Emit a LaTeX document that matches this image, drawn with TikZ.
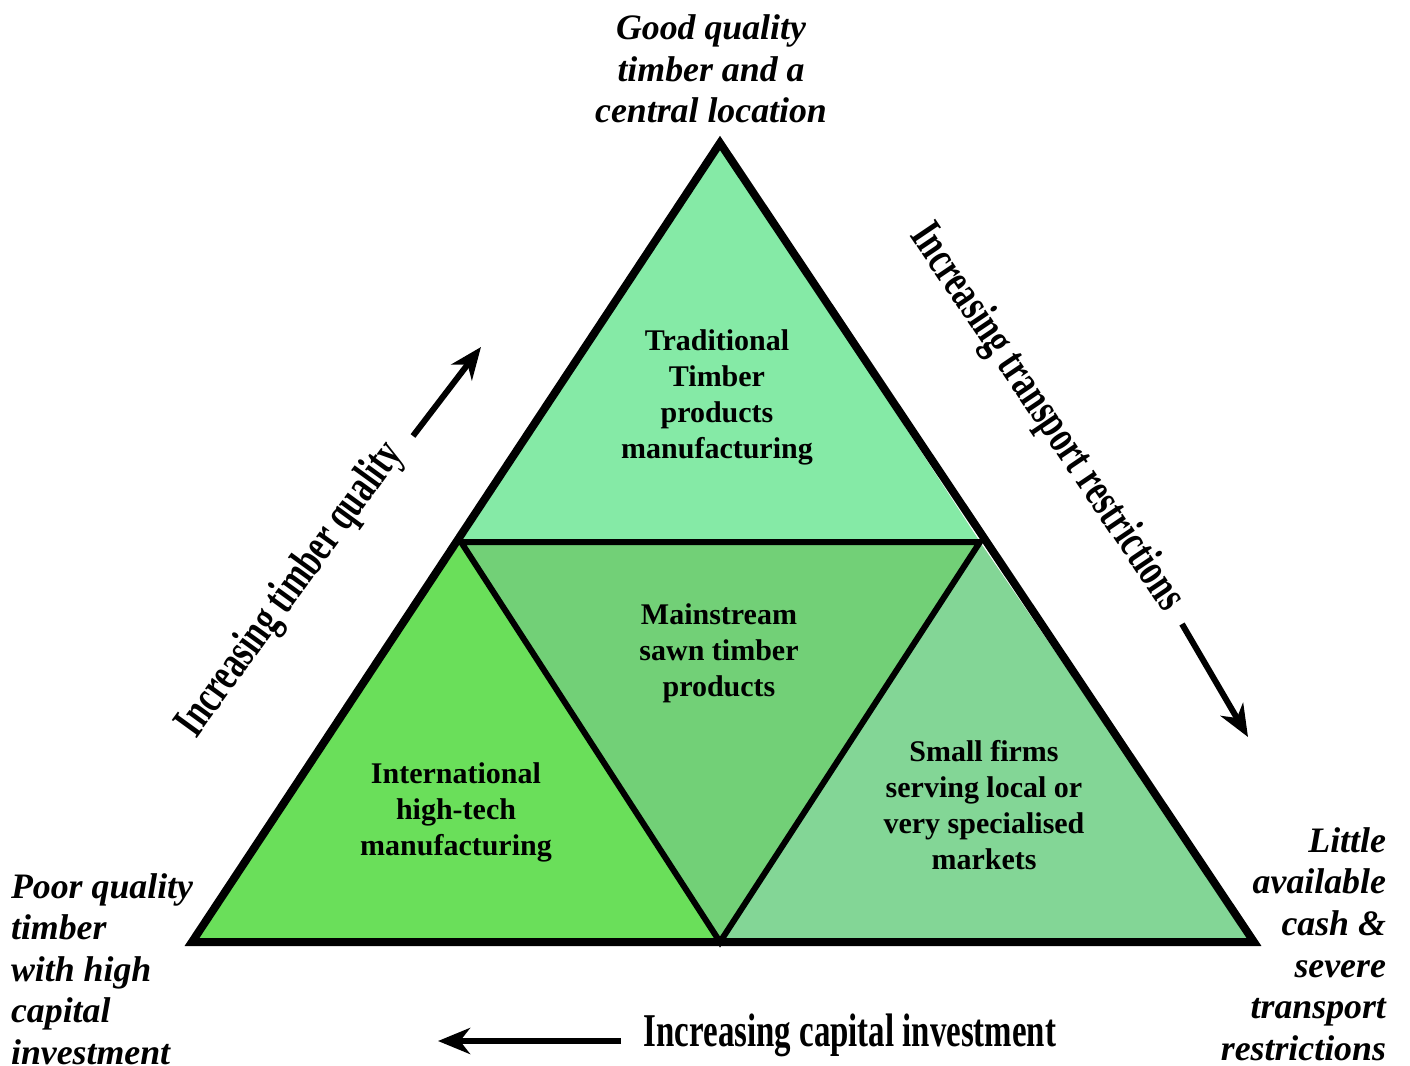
\documentclass[tikz,border=0pt]{standalone}
\usepackage{graphicx}
\usepackage{fontspec}
\setmainfont{Liberation Serif}
\usetikzlibrary{arrows.meta}
\definecolor{topgreen}{HTML}{85EAA6}
\definecolor{midgreen}{HTML}{72D077}
\definecolor{leftgreen}{HTML}{6ADF5A}
\definecolor{rightgreen}{HTML}{83D696}

\begin{document}
\begin{tikzpicture}[x=0.5pt,y=-0.5pt,
    zone/.style={font=\bfseries\fontsize{15}{18}\selectfont, align=center},
    corner/.style={font=\bfseries\itshape\fontsize{17.9}{20.8}\selectfont},
    trend/.style={font=\bfseries\fontsize{23.5}{28}\selectfont},
    push/.style={line width=3pt, -{Stealth[length=16pt,width=13pt,inset=5pt]}}]
  \useasboundingbox (0,0) rectangle (1410,1066);

  % corners of the big triangle and the midpoints of its sides
  \coordinate (apex) at (720,143);
  \coordinate (bl) at (192,942);
  \coordinate (br) at (1254,942);
  \coordinate (ml) at (461,542);
  \coordinate (mr) at (980,542);
  \coordinate (mb) at (720,942);

  % the four zones
  \foreach \p / \q / \r / \col in {apex/ml/mr/topgreen, ml/mr/mb/midgreen,
      bl/ml/mb/leftgreen, mb/mr/br/rightgreen} {
    \fill[\col] (\p) -- (\q) -- (\r) -- cycle;
  };
  \draw[line width=3pt, line join=miter] (ml) -- (mr) -- (mb) -- cycle;
  \draw[line width=4pt, line join=miter] (apex) -- (br) -- (bl) -- cycle;

  \node[zone] (trad) at (717,397) {Traditional\\Timber\\products\\manufacturing};
  \node[zone] (main) at (719,653) {Mainstream\\sawn timber\\products};
  \node[zone] (intl) at (456,812) {International\\high-tech\\manufacturing};
  \node[zone] (small) at (984,805) {Small firms\\serving local or\\very specialised\\markets};

  \node[corner, align=center] (good) at (711,69) {Good quality\\timber and a\\central location};
  \node[corner, align=left, anchor=west] (poor) at (4,969) {Poor quality\\timber\\with high\\capital\\investment};
  \node[corner, align=right, anchor=east] (cash) at (1393,944) {Little\\available\\cash \&\\severe\\transport\\restrictions};

  % trends along the sides
  \node[trend, rotate=54] (quality) at (291,590) {\scalebox{0.69}[1]{Increasing timber quality}};
  \node[trend, rotate=-56] (transport) at (1046,418) {\scalebox{0.7}[1]{Increasing transport restrictions}};
  \node[trend] (capital) at (850,1035) {\scalebox{0.7}[1]{Increasing capital investment}};

  \coordinate (q1) at (413,436);
  \coordinate (q2) at (481,347);
  \coordinate (t1) at (1182,624);
  \coordinate (t2) at (1248,737);
  \coordinate (c1) at (621,1041);
  \coordinate (c2) at (438,1041);
  \draw[push] (q1) -- (q2);
  \draw[push] (t1) -- (t2);
  \draw[push] (c1) -- (c2);
\end{tikzpicture}
\end{document}
